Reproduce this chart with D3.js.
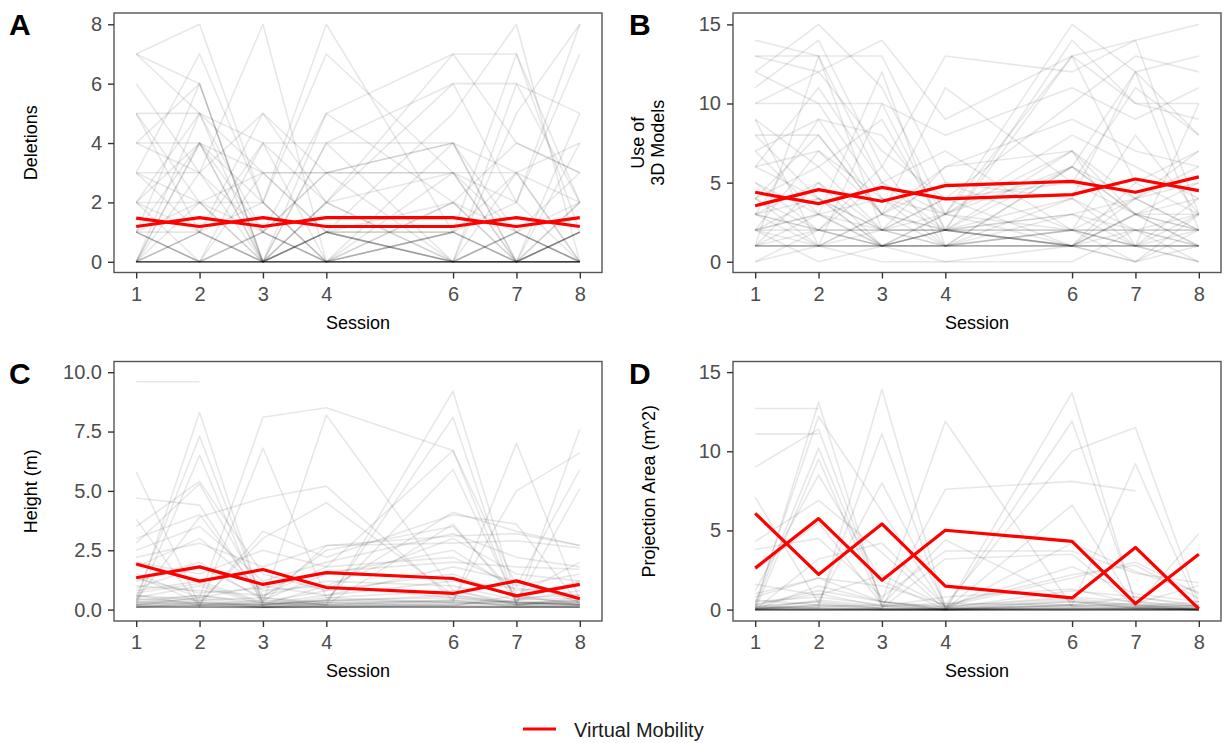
<!DOCTYPE html>
<html>
<head>
<meta charset="utf-8">
<script src="https://cdn.jsdelivr.net/npm/d3@7"></script>
<style>
  body { margin: 0; background: #fff; }
  text { font-family: "Liberation Sans", Arial, Helvetica, sans-serif; }
</style>
</head>
<body>
<div id="vis"></div>
<script>

// sessions on the x axis (no session 5)
var sessions = [1, 2, 3, 4, 6, 7, 8];

// A: deletions per participant, one row per participant, values per session
var deletions = [
  [0,0,0,0,0,0,0], [0,0,0,0,0,0,0], [0,0,0,0,0,0,0], [0,0,0,0,0,0,0],
  [0,0,0,0,0,0,0], [0,0,0,0,0,0,0], [0,0,0,0,0,0,0], [0,0,0,0,0,0,0],
  [1,0,0,1,0,0,0], [1,0,0,1,0,1,0], [1,0,1,0,0,1,0], [0,1,0,0,1,0,1],
  [0,1,0,1,1,0,1], [0,4,0,0,0,0,0], [0,4,1,0,4,1,0], [1,4,0,2,3,0,4],
  [0,5,0,1,0,0,0], [2,5,1,3,4,0,1], [7,8,2,0,2,0,0], [7,5,3,3,3,1,2],
  [7,6,0,4,4,0,1], [6,3,8,0,1,3,0], [5,5,4,4,6,6,5], [5,1,0,5,7,4,3],
  [4,6,0,2,7,7,2], [4,3,5,2,6,2,8], [3,7,2,8,1,0,5], [3,2,1,3,4,3,4],
  [2,4,3,1,5,8,0], [2,2,2,7,3,3,2], [2,0,3,3,0,1,3], [1,6,0,4,0,6,2],
  [0,0,4,0,2,0,2], [0,3,0,1,1,2,0], [3,1,4,2,0,0,1], [0,0,1,5,2,1,0],
  [5,2,3,1,2,4,3], [4,4,2,0,0,3,0], [0,2,0,1,0,0,1], [1,0,0,0,0,0,2],
  [2,1,5,3,3,2,7], [3,3,1,0,1,7,1], [0,1,2,0,3,0,0], [1,2,0,2,0,1,0],
  [0,0,0,1,0,5,8], [1,1,0,0,1,0,0], [0,0,1,0,0,0,1]
];
var deletionsMeanA = [1.47, 1.19, 1.49, 1.19, 1.19, 1.49, 1.19];
var deletionsMeanB = [1.19, 1.49, 1.19, 1.49, 1.49, 1.19, 1.49];

// B: use of 3D models
var models = [
  [1,1,1,1,1,1,1], [1,1,1,1,1,1,1], [1,1,1,1,1,1,1], [1,1,1,1,1,0,1],
  [1,2,1,2,1,1,1], [2,2,2,2,2,2,2], [2,1,2,2,1,4,2], [3,2,1,2,1,3,1],
  [3,5,2,1,2,4,2], [3,9,3,2,1,0,3], [1,5,1,3,7,1,10], [4,8,3,1,6,12,2],
  [2,3,4,2,6,3,4], [0,2,1,1,2,1,0], [0,1,0,0,0,2,1], [14,13,5,2,7,3,2],
  [13,13,13,5,4,2,3], [13,12,14,9,13,10,10], [12,15,11,3,15,12,13], [11,14,6,13,12,14,15],
  [10,10,10,8,11,9,11], [10,12,7,4,10,13,12], [9,6,9,2,14,10,9], [8,8,3,11,5,11,8],
  [8,4,2,6,9,7,6], [7,9,8,3,13,5,7], [7,3,12,1,6,3,5], [6,11,5,7,2,8,3],
  [6,7,4,3,8,6,4], [5,2,6,1,3,4,5], [5,3,1,2,3,2,2], [4,6,2,4,5,3,3],
  [4,1,3,5,2,1,4], [3,4,1,0,1,2,0], [2,3,2,1,4,1,3], [2,0,1,3,1,3,1],
  [3,2,2,2,2,0,2], [6,4,1,2,4,12,8], [2,7,3,6,7,4,6], [12,10,4,1,2,1,0],
  [1,13,2,4,1,5,3], [9,1,10,2,13,14,3], [3,1,3,2,1,3,2], [2,4,2,3,2,2,1],
  [1,3,1,2,3,1,2], [4,2,5,3,6,4,7]
];
var modelsMeanA = [4.39, 3.67, 4.70, 3.97, 4.24, 5.23, 4.49];
var modelsMeanB = [3.54, 4.56, 3.82, 4.81, 5.08, 4.39, 5.36];

// C: height (m)
var heights = [
  [0.10,0.10,0.10,0.10,0.10,0.10,0.10], [0.10,0.10,0.10,0.10,0.10,0.10,0.10],
  [0.10,0.10,0.10,0.10,0.10,0.10,0.10], [0.12,0.10,0.08,0.10,0.12,0.10,0.10],
  [0.10,0.15,0.10,0.12,0.10,0.15,0.12], [0.15,0.20,0.10,0.15,0.20,0.15,0.10],
  [0.20,0.30,0.10,0.20,0.30,0.20,0.15], [0.25,0.50,0.15,0.30,0.40,0.30,0.20],
  [0.30,0.20,0.20,0.40,0.50,0.25,0.30], [0.40,0.60,0.30,0.10,0.20,0.40,0.50],
  [0.50,1.00,0.20,0.50,0.80,0.30,0.40], [0.60,0.40,0.50,0.30,0.15,0.60,0.20],
  [0.80,1.20,0.30,0.80,1.50,0.50,0.60], [1.00,0.80,0.60,1.20,1.00,0.40,0.80],
  [1.20,2.00,0.40,1.50,2.50,0.80,1.00], [1.50,0.50,1.00,0.60,1.80,1.20,0.30],
  [1.80,3.00,0.80,1.00,3.00,1.50,1.20], [2.00,1.50,2.50,1.80,2.20,1.00,1.50],
  [2.50,3.50,1.20,2.00,3.20,2.20,1.80], [3.00,4.00,0.50,2.50,3.50,0.60,2.00],
  [3.50,5.40,1.50,0.80,4.10,3.30,2.70], [4.70,4.40,0.30,2.70,3.10,3.20,2.70],
  [9.60,9.60,null,null,null,null,null], [0.30,8.30,0.20,1.00,0.50,0.30,0.20],
  [0.20,0.50,8.10,8.50,6.70,0.20,0.40], [0.50,7.30,0.30,8.20,0.80,0.20,0.50],
  [5.80,0.20,0.40,0.20,9.20,0.50,0.30], [0.20,6.50,0.10,0.30,8.10,0.20,7.60],
  [3.80,0.10,6.80,0.50,0.30,7.00,0.40], [0.40,3.90,4.70,5.20,0.40,5.00,6.60],
  [0.10,0.30,0.20,0.40,5.90,0.30,5.10], [2.80,5.30,0.60,1.80,6.70,1.00,5.90],
  [0.60,0.20,3.30,2.20,4.00,3.60,0.20], [2.20,2.80,1.80,2.70,2.80,2.90,2.60],
  [0.90,1.80,0.50,0.20,3.60,0.40,1.20], [0.35,0.25,0.15,0.25,0.35,0.20,0.25],
  [0.20,0.40,0.10,0.15,0.25,0.35,0.20], [0.15,0.10,0.12,0.20,0.10,0.10,0.15],
  [0.45,0.30,0.20,0.35,0.60,0.25,0.35], [1.30,0.70,0.90,1.60,2.00,1.80,1.70],
  [0.70,1.10,0.25,0.60,1.20,0.90,0.60], [1.40,0.30,3.00,4.50,0.60,0.30,0.20],
  [0.10,0.20,0.10,0.10,0.15,0.10,0.10], [0.12,0.12,0.10,0.12,0.12,0.12,0.10],
  [0.30,0.60,0.20,0.40,0.30,0.20,0.30], [0.20,0.15,0.30,0.20,0.40,0.10,0.20]
];
var heightsMeanA = [1.92, 1.20, 1.69, 0.93, 0.68, 1.21, 0.46];
var heightsMeanB = [1.34, 1.80, 1.06, 1.56, 1.31, 0.58, 1.06];

// D: projection area (m^2)
var areas = [
  [0,0,0,0,0,0,0], [0,0,0,0,0,0,0], [0,0,0,0,0,0,0], [0,0,0,0,0,0,0], [0,0,0,0,0,0,0],
  [0,0,0,0,0,0,0], [0,0,0,0,0,0,0], [0,0,0,0,0,0,0], [0,0,0,0,0,0,0], [0,0,0,0,0,0,0],
  [0.05,0.10,0.00,0.00,0.05,0.10,0.00], [0.10,0.20,0.05,0.00,0.10,0.05,0.05],
  [0.20,0.50,0.10,0.05,0.30,0.20,0.10], [0.30,1.00,0.20,0.10,0.50,0.30,0.05],
  [0.50,0.80,0.30,0.20,0.80,0.50,0.20], [1.00,2.00,0.50,0.10,1.20,0.80,0.30],
  [0.10,0.30,0.05,0.00,0.20,0.10,0.00], [12.7,12.7,null,null,null,null,null],
  [11.1,11.1,null,null,null,null,null], [9.0,11.4,0.5,0.0,0.3,0.2,0.0],
  [0.1,13.1,0.2,0.0,0.5,0.1,0.0], [0.2,0.1,13.9,0.1,0.2,0.1,0.0],
  [0.0,0.3,11.1,0.0,13.7,0.3,0.0], [0.3,10.2,0.5,11.9,0.2,0.4,0.1],
  [0.1,0.2,0.3,0.0,11.9,0.5,0.2], [0.2,0.5,8.0,0.3,10.0,11.5,0.4],
  [7.1,0.4,0.1,7.6,8.1,7.5,null], [0.0,9.5,0.2,0.4,0.3,9.2,0.1],
  [4.3,6.9,3.6,0.0,6.6,0.2,4.8], [3.8,4.5,0.8,3.7,3.7,2.3,1.7],
  [1.6,0.9,2.2,0.2,2.0,3.0,1.0], [0.4,12.2,6.2,0.1,0.6,0.2,0.1],
  [2.5,5.5,0.3,4.4,0.5,0.1,0.3], [0.0,3.2,4.2,0.2,2.7,1.0,0.5],
  [0.8,2.0,1.5,0.3,2.2,2.8,0.7], [0.0,0.6,0.2,0.8,1.3,0.4,1.5],
  [0.3,1.2,0.5,0.2,0.7,0.3,0.2], [0.1,0.1,0.0,0.0,0.0,0.1,0.0],
  [0.0,0.0,0.0,0.0,0.1,0.0,0.0], [1.2,8.5,1.8,0.0,4.2,2.4,1.1],
  [0.6,0.3,0.1,3.2,3.5,0.2,0.5], [0.0,1.5,0.5,0.0,0.3,0.8,0.2]
];
var areasMeanA = [6.08, 2.22, 5.41, 1.48, 0.74, 3.93, 0.04];
var areasMeanB = [2.62, 5.75, 1.86, 5.01, 4.31, 0.38, 3.49];

// tick labels
var ticksA = [0, 2, 4, 6, 8];
var ticksB = [0, 5, 10, 15];
var ticksC = [0, 2.5, 5, 7.5, 10];
var ticksD = [0, 5, 10, 15];

var legendLabel = "Virtual Mobility";

// panel box size
var boxW = 488, boxH = 259.5;

var svg = d3.select("#vis").append("svg")
    .attr("width", 1228)
    .attr("height", 743);

function drawPanel(p) {
  var x = d3.scaleLinear().domain([0.65, 8.35]).range([p.left, p.left + boxW]);
  var y = d3.scaleLinear().domain(p.yDomain).range([p.top + boxH, p.top]);

  var line = d3.line()
      .defined(function(d) { return d[1] != null; })
      .x(function(d) { return x(d[0]); })
      .y(function(d) { return y(d[1]); });

  var g = svg.append("g");

  // one grey line per participant
  g.selectAll("path.ind")
    .data(p.data)
    .enter().append("path")
      .attr("class", "ind")
      .attr("d", function(d) { return line(d.map(function(v, i) { return [sessions[i], v]; })); })
      .attr("fill", "none")
      .attr("stroke", "#000")
      .attr("stroke-opacity", 0.095)
      .attr("stroke-width", 1.6)
      .attr("stroke-linejoin", "round");

  // red mean lines
  g.selectAll("path.mean")
    .data(p.means)
    .enter().append("path")
      .attr("class", "mean")
      .attr("d", function(d) { return line(d.map(function(v, i) { return [sessions[i], v]; })); })
      .attr("fill", "none")
      .attr("stroke", "#ff0000")
      .attr("stroke-width", 3.2)
      .attr("stroke-linejoin", "round");

  // panel border
  g.append("rect")
    .attr("x", p.left).attr("y", p.top)
    .attr("width", boxW).attr("height", boxH)
    .attr("fill", "none")
    .attr("stroke", "#555")
    .attr("stroke-width", 1.4);

  // axes
  var ya = g.append("g")
      .attr("transform", "translate(" + p.left + ",0)")
      .call(d3.axisLeft(y).tickValues(p.ticks).tickFormat(p.fmt)
            .tickSize(6).tickPadding(6).tickSizeOuter(0));
  var xa = g.append("g")
      .attr("transform", "translate(0," + (p.top + boxH) + ")")
      .call(d3.axisBottom(x).tickValues(sessions).tickFormat(d3.format("d"))
            .tickSize(6).tickPadding(8).tickSizeOuter(0));

  [ya, xa].forEach(function(a) {
    a.select(".domain").remove();
    a.selectAll(".tick line").attr("stroke", "#333").attr("stroke-width", 1.4);
    a.selectAll(".tick text")
      .attr("fill", "#4d4d4d")
      .style("font-size", "20px")
      .style("font-family", "'Liberation Sans', Arial, sans-serif");
  });

  // x title
  g.append("text")
    .attr("x", p.left + boxW / 2)
    .attr("y", p.top + boxH + 56)
    .attr("text-anchor", "middle")
    .style("font-size", "18px")
    .text("Session");

  // y title (may be several lines)
  p.yTitle.forEach(function(t, i) {
    g.append("text")
      .attr("transform", "translate(" + p.titleX[i] + "," + (p.top + boxH / 2) + ") rotate(-90)")
      .attr("text-anchor", "middle")
      .style("font-size", "18px")
      .text(t);
  });

  // panel letter
  g.append("text")
    .attr("x", p.letterX)
    .attr("y", p.top + 22)
    .style("font-size", "30px")
    .style("font-weight", "bold")
    .text(p.letter);
}

drawPanel({ left: 114, top: 13, yDomain: [-0.36, 8.38], data: deletions,
  means: [deletionsMeanA, deletionsMeanB], ticks: ticksA, fmt: d3.format("d"),
  yTitle: ["Deletions"], titleX: [37], letter: "A", letterX: 9 });

drawPanel({ left: 733, top: 13, yDomain: [-0.68, 15.72], data: models,
  means: [modelsMeanA, modelsMeanB], ticks: ticksB, fmt: d3.format("d"),
  yTitle: ["Use of", "3D Models"], titleX: [644, 664], letter: "B", letterX: 629 });

drawPanel({ left: 114, top: 361.5, yDomain: [-0.48, 10.45], data: heights,
  means: [heightsMeanA, heightsMeanB], ticks: ticksC, fmt: d3.format(".1f"),
  yTitle: ["Height (m)"], titleX: [37], letter: "C", letterX: 9 });

drawPanel({ left: 733, top: 361.5, yDomain: [-0.72, 15.67], data: areas,
  means: [areasMeanA, areasMeanB], ticks: ticksD, fmt: d3.format("d"),
  yTitle: ["Projection Area (m^2)"], titleX: [655], letter: "D", letterX: 629 });

// legend
var legend = svg.append("g");
legend.append("line")
  .attr("x1", 523).attr("x2", 556)
  .attr("y1", 729).attr("y2", 729)
  .attr("stroke", "#ff0000")
  .attr("stroke-width", 3);
legend.append("text")
  .attr("x", 574).attr("y", 737)
  .style("font-size", "20px")
  .attr("fill", "#1a1a1a")
  .text(legendLabel);

</script>
</body>
</html>
